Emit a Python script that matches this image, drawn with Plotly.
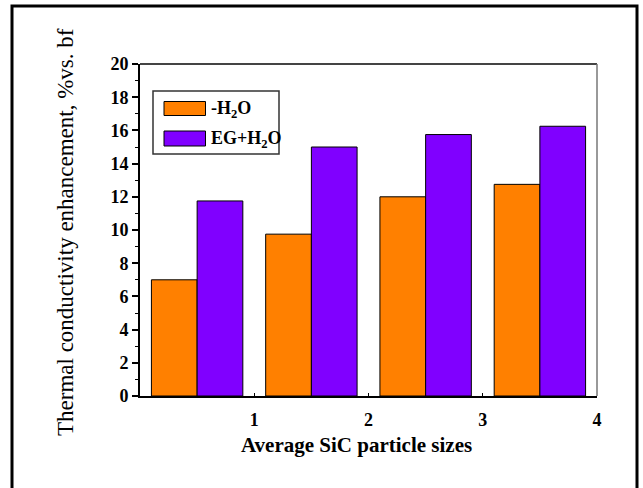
import plotly.graph_objects as go

# ---- data ----
groups = [1, 2, 3, 4]
h2o = [7.0, 9.75, 12.0, 12.75]
eg_h2o = [11.75, 15.0, 15.75, 16.25]
series_names = ["-H<sub>2</sub>O", "EG+H<sub>2</sub>O"]
y_ticks = list(range(0, 21, 2))
x_title = "Average SiC particle sizes"
y_title = "Thermal conductivity enhancement, %vs. bf"

W, H = 643, 488
L, R, T, B = 140, 597, 64, 396  # plot area in pixels
FONT = "Liberation Serif, Times New Roman, serif"
ORANGE = "#FF8000"
PURPLE = "#8000FF"

def px(x):
    return (x - L) / (R - L)

def py(y):
    return (B - y) / (B - T)

xpos = [g - 0.5 for g in groups]

fig = go.Figure()
fig.add_trace(go.Bar(x=xpos, y=h2o, name=series_names[0], marker=dict(color=ORANGE, line=dict(color="black", width=1))))
fig.add_trace(go.Bar(x=xpos, y=eg_h2o, name=series_names[1], marker=dict(color=PURPLE, line=dict(color="black", width=1))))

shapes = [
    # outer frame
    dict(type="rect", xref="paper", yref="paper", x0=px(12), x1=px(637), y0=py(6), y1=py(520),
         line=dict(color="black", width=3), fillcolor="rgba(0,0,0,0)", layer="below"),
    # top and right plot borders
    dict(type="line", xref="paper", yref="paper", x0=0, x1=1, y0=1, y1=1, line=dict(color="#444", width=2)),
    dict(type="line", xref="paper", yref="paper", x0=1, x1=1, y0=0, y1=1, line=dict(color="#777", width=1.5)),
    # legend box
    dict(type="rect", xref="paper", yref="paper", x0=px(153), x1=px(279), y0=py(91), y1=py(154),
         line=dict(color="#333", width=1.5), fillcolor="white"),
    dict(type="rect", xref="paper", yref="paper", x0=px(164), x1=px(205.5), y0=py(101.5), y1=py(115.5),
         line=dict(color="black", width=1), fillcolor=ORANGE),
    dict(type="rect", xref="paper", yref="paper", x0=px(164), x1=px(205.5), y0=py(131), y1=py(146),
         line=dict(color="black", width=1), fillcolor=PURPLE),
]

annotations = [
    dict(text="<b>" + series_names[0] + "</b>", xref="paper", yref="paper", x=px(209), y=py(109),
         xanchor="left", yanchor="middle", showarrow=False, font=dict(family=FONT, size=18, color="black")),
    dict(text="<b>" + series_names[1] + "</b>", xref="paper", yref="paper", x=px(209), y=py(139),
         xanchor="left", yanchor="middle", showarrow=False, font=dict(family=FONT, size=18, color="black")),
    dict(text="<b>" + x_title + "</b>", xref="paper", yref="paper", x=px(356.5), y=py(445),
         xanchor="center", yanchor="middle", showarrow=False, font=dict(family=FONT, size=21, color="black")),
    dict(text=y_title, xref="paper", yref="paper", x=px(65), y=py(232), textangle=-90,
         xanchor="center", yanchor="middle", showarrow=False, font=dict(family=FONT, size=23, color="black")),
]

fig.update_layout(
    width=W, height=H,
    margin=dict(l=L, r=W - R, t=T, b=H - B, pad=0),
    plot_bgcolor="white", paper_bgcolor="white",
    barmode="group", bargap=0.2, bargroupgap=0,
    showlegend=False,
    shapes=shapes, annotations=annotations,
    font=dict(family=FONT, color="black"),
    xaxis=dict(range=[0, 4], tickvals=groups, ticktext=[f"<b>{g}</b>" for g in groups],
               ticks="inside", ticklen=3, tickwidth=1, tickcolor="black",
               showline=True, linecolor="black", linewidth=2, showgrid=False, zeroline=False,
               tickfont=dict(family=FONT, size=18, color="black"), ticklabelstandoff=6),
    yaxis=dict(range=[0, 20], tickvals=y_ticks, ticktext=[f"<b>{v}</b>" for v in y_ticks],
               ticks="outside", ticklen=6, tickwidth=1.5, tickcolor="black",
               minor=dict(dtick=1, ticks="outside", ticklen=3, tickwidth=1, tickcolor="black", showgrid=False),
               showline=True, linecolor="black", linewidth=2, showgrid=False, zeroline=False,
               tickfont=dict(family=FONT, size=18, color="black")),
)

fig.write_html("out.html")
